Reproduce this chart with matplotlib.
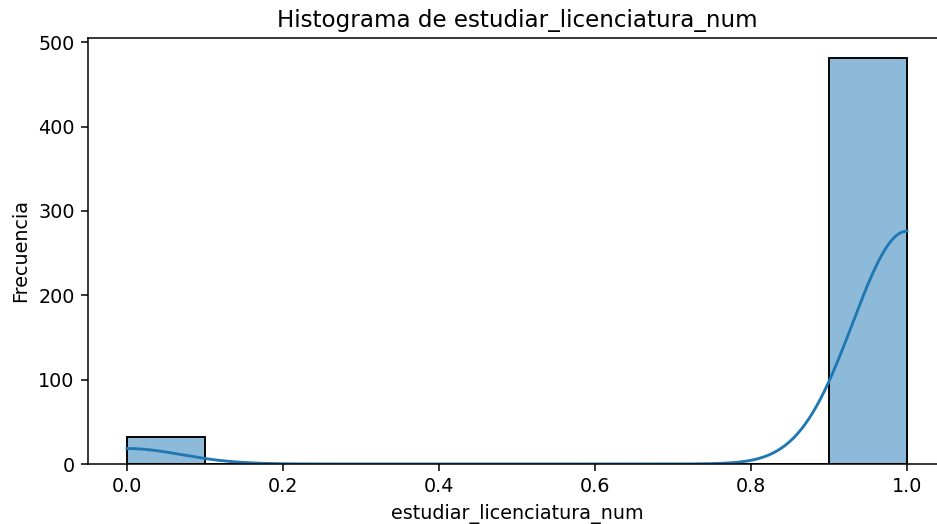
import numpy as np
import matplotlib
matplotlib.use("Agg")
from matplotlib import pyplot as plt
import seaborn as sns

# values: 0 -> ~32, 1 -> ~481
valores = [0, 1]
conteos = [32, 481]
columna = "estudiar_licenciatura_num"

datos = np.repeat(valores, conteos)

DPI = 138
fig = plt.figure(figsize=(937 / DPI, 524 / DPI), dpi=DPI)
ax = fig.add_axes([88 / 937, 60 / 524, 858 / 937, 426 / 524])
sns.histplot(datos, bins=10, kde=True, ax=ax)
ax.set_title(f"Histograma de {columna}", fontsize=12)
ax.set_xlabel(columna)
ax.set_ylabel("Frecuencia")
ax.set_xlim(-0.05, 1.05)
# the right edge of the axes falls outside the saved image in the reference
ax.spines["right"].set_visible(False)
fig.savefig("out.png", dpi=DPI)
